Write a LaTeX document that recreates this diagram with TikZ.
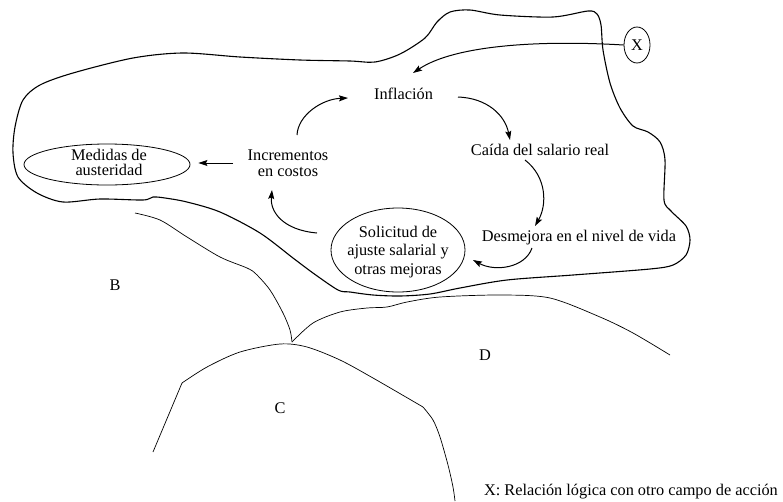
\documentclass[tikz,border=0pt]{standalone}
\usepackage{fontspec}
\setmainfont{Liberation Serif}
\newfontfamily\tnr{Liberation Serif}
\usetikzlibrary{arrows.meta,shapes.geometric}
\begin{document}
\begin{tikzpicture}[x=1pt,y=-1pt,
  lbl/.style={inner sep=0pt,font=\tnr\fontsize{16.3}{16}\selectfont},
  outline/.style={line width=1.1pt,line join=round},
  thin/.style={line width=0.7pt,line join=round},
  arr/.style={line width=1pt,-{Stealth[length=9pt,width=6pt,inset=1.5pt]}},
  oval/.style={draw,ellipse,line width=0.8pt,inner sep=0pt}]
\useasboundingbox (0,0) rectangle (783,501);

% main region outline
\draw[outline] plot[smooth cycle,tension=0.5] coordinates {
 (40,85) (73,73) (133,58) (183,53) (240,57) (300,60) (350,61) (375,62)
 (400,54) (425,38) (437,22) (450,12) (470,10) (500,15) (553,17) (588,11)
 (597,14) (601,25) (603,50) (610,83) (620,108) (633,126) (648,132) (660,142)
 (665,160) (664,200) (671,211) (686,226) (690,240) (686,255) (673,265)
 (650,269) (573,275) (507,280) (460,288) (430,294) (400,296) (373,295)
 (350,292) (338,290) (313,273) (293,258) (260,233) (220,212) (187,202)
 (165,198) (153,197) (143,200) (100,199) (63,202) (37,193) (18,177)
 (13,153) (15,127) (23,100)};

% other regions
\draw[thin] plot[smooth,tension=0.5] coordinates {(135,213) (160,220) (187,237)
 (220,257) (247,268) (256,274) (270,290) (283,313) (290,330) (292,342)};
\draw[thin] plot[smooth,tension=0.5] coordinates {(292,342) (313,323) (340,312)
 (367,308) (387,307) (407,302) (440,297) (500,295) (550,298) (600,317)
 (633,333) (670,355)};
\draw[thin] (153,452) -- (182,383);
\draw[thin] plot[smooth,tension=0.5] coordinates {(182,383) (207,367) (240,352)
 (280,344) (307,347) (340,360) (373,378) (423,407)};
\draw[thin] plot[smooth,tension=0.5] coordinates {(423,407) (433,420) (440,437)
 (448,465) (453,487) (455,501)};

% nodes
\node[oval,minimum width=26,minimum height=36] (X) at (637,45) {};
\node[lbl] (Xt) at (637,45) {X};
\node[lbl,anchor=base] (infl) at (403.5,99) {Inflación};
\node[lbl,anchor=base] (caida) at (540,155) {Caída del salario real};
\node[lbl,anchor=base] (desm) at (579,241) {Desmejora en el nivel de vida};
\node[oval,minimum width=134,minimum height=84] (solE) at (398,250) {};
\node[lbl,align=center,font=\tnr\fontsize{16.3}{18.5}\selectfont] (sol) at (398,251.6)
 {Solicitud de\\ajuste salarial y\\otras mejoras};
\node[lbl,align=center,font=\tnr\fontsize{16.3}{16}\selectfont] (incr) at (288,163.5)
 {Incrementos\\en costos};
\node[oval,minimum width=166,minimum height=41] (medE) at (107,164.5) {};
\node[lbl,align=center,font=\tnr\fontsize{16.3}{15}\selectfont] (medT) at (109,162.7)
 {Medidas de\\austeridad};
\node[lbl] (B) at (115,285) {B};
\node[lbl] (C) at (280,408) {C};
\node[lbl] (D) at (485,355) {D};
\node[lbl,anchor=base east] (note) at (778,495) {X: Relación lógica con otro campo de acción};

% connectors
\draw[arr] (X.west) .. controls (540,40) and (455,45) .. ([shift={(9.5,-26)}]infl.base);
\draw[arr] ([shift={(9,-28.5)}]incr.center) .. controls (298,115) and (322,99) .. ([shift={(-55.5,-1)}]infl.base);
\draw[arr] ([shift={(54.5,-2)}]infl.base) .. controls (487,98) and (505,115) .. ([shift={(-30,-15)}]caida.base);
\draw[arr] ([shift={(-15,5)}]caida.base) .. controls (547,177) and (547,205) .. ([shift={(-44,-15)}]desm.base);
\draw[arr] ([shift={(-47,7)}]desm.base) .. controls (525,268) and (495,272) .. ([shift={(75,10)}]solE.center);
\draw[arr] ([shift={(-81,-17)}]solE.center) .. controls (283,230) and (270,212) .. ([shift={(-16,26.5)}]incr.center);
\draw[arr] ([shift={(-55,-0.5)}]incr.center) -- ([shift={(8,-1.5)}]medE.east);
\end{tikzpicture}
\end{document}
